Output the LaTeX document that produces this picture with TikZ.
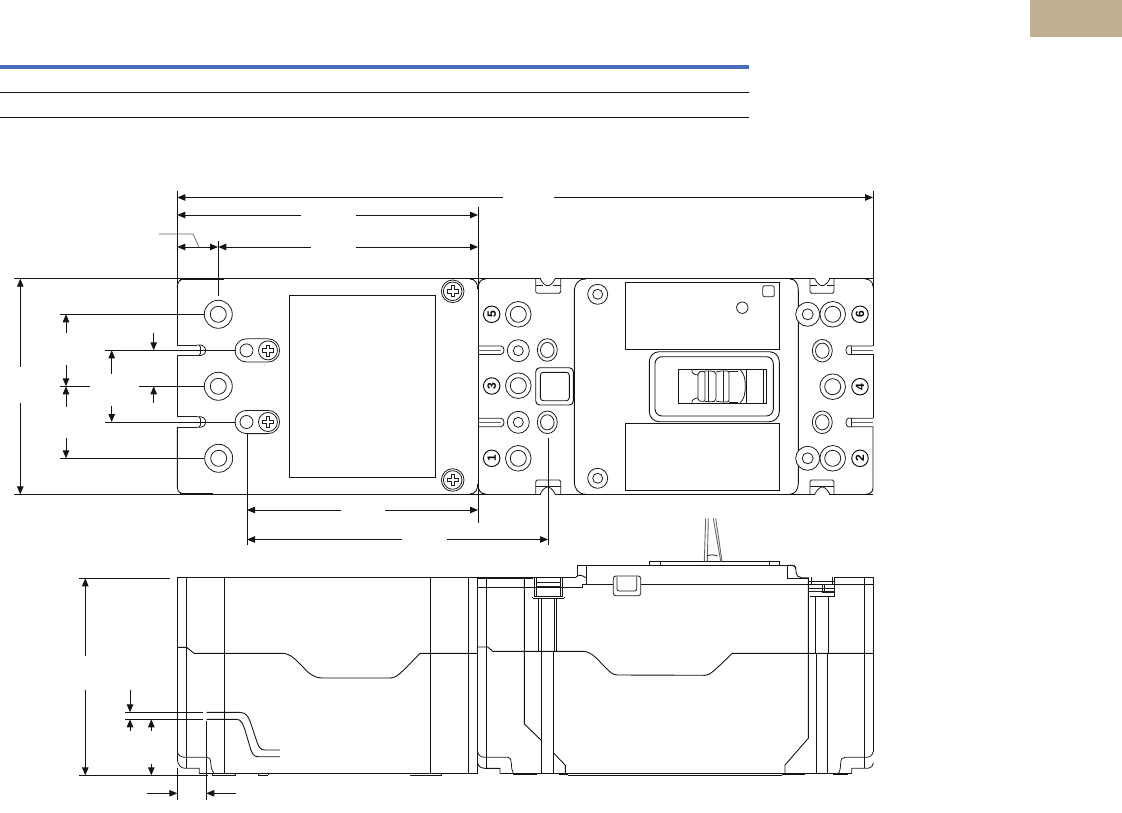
\documentclass[tikz,border=0pt]{standalone}
\usepackage{fontspec}
\setmainfont{Liberation Sans}
\usetikzlibrary{arrows.meta}
\definecolor{hdrblue}{HTML}{4A6CBF}
\definecolor{tabtan}{HTML}{C0B08F}
\tikzset{
  ln/.style={line width=0.9pt,black!92},
  fn/.style={line width=0.8pt,black!88},
  heavy/.style={line width=1.7pt,black!92},
  gr/.style={line width=0.7pt,black!60},
  dm/.style={line width=0.9pt,black!92,-{Triangle[length=8pt,width=6.5pt]}},
  dd/.style={line width=0.9pt,black!92,{Triangle[length=8pt,width=6.5pt]}-{Triangle[length=8pt,width=6.5pt]}},
}
\newcommand{\ring}[4]{\draw[fn,fill=white] (#1,#2) circle (#3); \draw[fn] (#1,#2) circle (#4);}
\newcommand{\ovl}[2]{\draw[fn,fill=white] (#1,#2) ellipse (10 and 11.3); \draw[fn] (#1,#2) ellipse (6.8 and 7.6);}
\newcommand{\crosshead}[2]{%
  \draw[fn,fill=white] (#1,#2) circle (11.3); \draw[fn] (#1,#2) circle (9.3);
  \draw[fn] (#1,#2) ++(-1.8,-5.5) -- ++(3.6,0) -- ++(0,3.7) -- ++(3.7,0) -- ++(0,3.6) -- ++(-3.7,0) -- ++(0,3.7) -- ++(-3.6,0) -- ++(0,-3.7) -- ++(-3.7,0) -- ++(0,-3.6) -- ++(3.7,0) -- cycle;}
\newcommand{\pill}[1]{%
  \draw[fn,fill=white,rounded corners=11.5pt] (235,#1-11.6) rectangle (279.6,#1+11.6);
  \draw[fn] (246.5,#1) circle (6.5);
  \draw[fn] (268,#1) circle (9.5);
  \draw[fn] (268,#1) ++(-1.8,-5.5) -- ++(3.6,0) -- ++(0,3.7) -- ++(3.7,0) -- ++(0,3.6) -- ++(-3.7,0) -- ++(0,3.7) -- ++(-3.6,0) -- ++(0,-3.7) -- ++(-3.7,0) -- ++(0,-3.6) -- ++(3.7,0) -- cycle;}
\newcommand{\numeral}[3]{\node[circle,draw,line width=0.9pt,minimum size=16.5pt,inner sep=0pt,font=\fontsize{12}{12}\selectfont\bfseries,rotate=90] (n#3) at (#1,#2) {#3};}
\begin{document}
\begin{tikzpicture}[x=1pt,y=-1pt]
\useasboundingbox (0,0) rectangle (1122,813);
% header
\fill[tabtan] (1030,0) rectangle (1122,37);
\fill[hdrblue] (0,65) rectangle (749,69);
\draw[ln] (0,92.5) -- (749,92.5);
\draw[ln] (0,117.5) -- (749,117.5);

% ============ TOP VIEW outline
\draw[ln] (14,278.7) -- (873,278.7);
\draw[ln] (14,494.3) -- (873,494.3);
\draw[ln] (177.3,191) -- (177.3,345);
\draw[ln] (177.3,355.7) -- (177.3,417);
\draw[ln] (177.3,427) -- (177.3,486) .. controls (177.3,492) and (180,494) .. (186,494.3);
\draw[ln] (177.3,288) .. controls (177.3,281) and (180,279) .. (186,278.7);
\draw[ln] (478,207) -- (478,523);
\draw[heavy] (180,279) -- (224,279);
\draw[heavy] (180,494) -- (213,494);
% right of the left box
\draw[ln] (470,279) .. controls (475,279) and (477.7,283) .. (477.7,289);
\draw[ln] (485.5,279) .. controls (480.5,279) and (478,283) .. (478,289);
\draw[ln] (470,494) .. controls (475,494) and (477.7,490) .. (477.7,484);
\draw[ln] (485.5,494) .. controls (480.5,494) and (478,490) .. (478,484);
\draw[ln] (873,191) -- (873,346);
\draw[ln] (873,354.3) -- (873,418.3);
\draw[ln] (873,426.7) -- (873,488) .. controls (873,492) and (870,494) .. (866,494.3);
% left notches
\foreach \y in {350.3,422} {
  \draw[fn] (177.3,\y-5.3) -- (197,\y-5.3);
  \draw[fn] (177.3,\y+5.3) -- (197,\y+5.3);
  \draw[fn] (197,\y-5.3) .. controls (203,\y-6) and (206,\y-3) .. (205.5,\y) .. controls (206,\y+3) and (203,\y+6) .. (197,\y+5.3);
  \draw[fn] (199,\y-5.3) -- (200.5,\y-3) -- (200.5,\y+3) -- (199,\y+5.3);
}
% large holes, left
\ring{218.3}{314.3}{14}{8}
\ring{218.3}{386.3}{14}{8}
\ring{218.7}{458.3}{14}{8}
\pill{350.4}
\pill{422}
% label window
\draw[ln] (289.3,295.2) rectangle (435.7,477.2);
\crosshead{452.7}{291.3}
\crosshead{452.7}{480}

% Section 2
\ring{518.3}{314.3}{12.8}{8}
\ring{518.3}{385.7}{12.8}{8}
\ring{518.3}{458.3}{12.8}{8}
\ring{518.3}{350.7}{11}{5}
\ring{518.3}{422.3}{11}{5}
\ovl{547.3}{350}
\ovl{547.3}{422.3}
\numeral{491.7}{314.3}{5}
\numeral{491.7}{386}{3}
\numeral{491.7}{458.3}{1}
\foreach \y/\h in {350.2/4.2,422.5/4.2} {
  \draw[fn] (478,\y-\h) -- (501,\y-\h) .. controls (505,\y-\h) and (505,\y+\h) .. (501,\y+\h) -- (478,\y+\h);
  \draw[gr] (478,\y) -- (501,\y);
}
\draw[ln,rounded corners=4pt] (535.7,367.7) rectangle (573.3,405);
\draw[ln,rounded corners=3pt] (540.3,372.3) rectangle (569.3,400.7);
% mounting-slot recesses top/bottom
\foreach \c/\l/\r in {547.7/535.7/560.7,822.3/810/834} {
  \draw[fn,rounded corners=1.5pt] (\l,279) -- (\l,293.3) -- (\r,293.3) -- (\r,279);
  \fill[white] (\c-7,277.5) rectangle (\c+7,284.8);
  \draw[fn] (\l,285.5) -- (\c-5,285.5);
  \draw[fn] (\c+5,285.5) -- (\r,285.5);
  \draw[fn] (\c-7.5,278.7) .. controls (\c-5,284) and (\c-2,285.7) .. (\c,285.7) .. controls (\c+2,285.7) and (\c+5,284) .. (\c+7.5,278.7);
  \draw[fn,rounded corners=1.5pt] (\l,494) -- (\l,480) -- (\r,480) -- (\r,494);
  \draw[fn] (\l,486.4) -- (\r,486.4);
  \fill[white] (\c-7,487.2) rectangle (\c+7,495.5);
  \draw[fn] (\c-7.5,494.3) .. controls (\c-5,489) and (\c-2,487) .. (\c,487) .. controls (\c+2,487) and (\c+5,489) .. (\c+7.5,494.3);
}
% Centre panel
\draw[ln] (586,279) .. controls (578,279) and (574.3,284) .. (574.3,292) -- (574.3,481) .. controls (574.3,489) and (578,494) .. (586,494.3);
\draw[ln] (790,279) .. controls (795,279) and (798.3,283) .. (798.3,290) -- (798.3,483) .. controls (798.3,490) and (795,494) .. (790,494.3);
\ring{597.7}{294.3}{10}{5}
\ring{597.7}{478.3}{10}{5}
\draw[ln] (625.3,282.3) rectangle (779.3,349);
\draw[ln] (625.3,423.3) rectangle (779.3,490.7);
\draw[fn,rounded corners=2pt] (762.7,285.7) rectangle (774.3,296.7);
\draw[fn] (742.3,307.7) circle (5.7);
\draw[ln,rounded corners=10pt] (649.3,351.7) rectangle (779.3,421.7);
\draw[ln,rounded corners=7pt] (655,356.7) rectangle (773.3,416);
% Handle
\draw[heavy,line width=1.3pt] (678.3,369.3) rectangle (766.7,403.3);
\draw[ln] (763.3,369.3) -- (763.3,403.3);
\draw[ln] (746.7,369.3) -- (746.7,403.3);
\draw[fn] (692,369.5) .. controls (691,373) and (695,375) .. (698,375) -- (698,398) .. controls (695,398) and (691,400) .. (692,403.3);
\draw[fn,rounded corners=2pt] (698,375) -- (698,372) -- (705,371) -- (705,401.5) -- (698,401) -- (698,398);
\draw[fn,rounded corners=2pt] (705,371) -- (712,371) -- (716,372) -- (716,401) -- (712,402) -- (705,401.5);
\draw[fn,rounded corners=2pt] (716,372) -- (720,371) -- (729,371) -- (729,402) -- (720,402) -- (716,401);
\draw[fn] (708,371) -- (708,402);
\draw[fn] (723,371) -- (723,402);
\draw[fn] (729,371) -- (738,371);
\draw[fn] (729,402) -- (738,402);
\draw[fn] (740,369.5) .. controls (744,374) and (745.3,378) .. (745.3,386) .. controls (745.3,394) and (744,399) .. (740,403.3);

% Section right
\ring{807.7}{314.3}{12}{5.5}
\ring{832.7}{314.3}{12.8}{8}
\ring{807.7}{458.3}{12}{5.5}
\ring{832.7}{458.3}{12.8}{8}
\ring{832.7}{386.7}{12.8}{8}
\ovl{822.3}{350.7}
\ovl{822.3}{422.3}
\numeral{860}{314.3}{6}
\numeral{860}{386.7}{4}
\numeral{860}{458.3}{2}
\foreach \y in {350.2,422.5} {
  \draw[fn] (873,\y-4.2) -- (851.5,\y-4.2) .. controls (848,\y-5.5) and (846,\y-3) .. (846,\y) .. controls (846,\y+3) and (848,\y+5.5) .. (851.5,\y+4.2) -- (873,\y+4.2);
  \draw[fn] (851.5,\y-4.2) -- (851.5,\y+4.2);
  \draw[gr] (852,\y) -- (873,\y);
}
\draw[fn] (865,279) .. controls (870,279) and (873,282) .. (873,287);

% ============ top-view dimensions
\draw[dm] (503,197.5) -- (177.3,197.5);
\draw[dm] (554,197.5) -- (873,197.5);
\draw[dm] (301,215) -- (177.3,215);
\draw[dm] (356,215) -- (478,215);
\draw[dd] (177.3,247) -- (218,247);
\draw[dm] (311,247) -- (218.3,247);
\draw[dm] (356,247) -- (478,247);
\draw[ln] (218.3,241) -- (218.3,296);
\draw[gr] (159,234) -- (193,234) -- (199,247);
\draw[ln] (60,314.3) -- (204,314.3);
\draw[dm] (66,332.7) -- (66,314.3);
\draw[ln] (60,386.3) -- (90,386.3);
\draw[ln] (139,386.3) -- (204,386.3);
\draw[dm] (66,365) -- (66,386.3);
\draw[dm] (66,406.7) -- (66,386.3);
\draw[dm] (153.7,402.7) -- (153.7,386.3);
\draw[ln] (105,350.3) -- (236,350.3);
\draw[dm] (153.7,332.7) -- (153.7,350.3);
\draw[dm] (111.7,373.7) -- (111.7,350.3);
\draw[ln] (105,422) -- (236,422);
\draw[dm] (111.7,406) -- (111.7,422);
\draw[ln] (60,458.3) -- (204,458.3);
\draw[dm] (66,437.7) -- (66,458.3);
\draw[dm] (20.3,366.7) -- (20.3,278.7);
\draw[dm] (20.3,402.7) -- (20.3,494.3);
\draw[ln] (247,433) -- (247,545);
\draw[dm] (341,510) -- (247,510);
\draw[dm] (385,510) -- (478,510);
\draw[dm] (402,539.5) -- (247,539.5);
\draw[dm] (447,539.5) -- (548,539.5);
\draw[ln] (548,438) -- (548,545);

% ============ SIDE VIEW
\draw[ln] (79.3,578.3) -- (170,578.3);
\draw[ln] (79.3,775.3) -- (208,775.3);
\draw[ln] (212,775.3) -- (235.7,775.3);
\draw[ln] (258,775.3) -- (268,775.3);
\draw[ln] (410,775.3) -- (441.7,775.3);
\draw[ln] (177.3,577.3) -- (576,577.3);
\draw[ln] (177.3,577.3) -- (177.3,760);
\draw[ln] (177.3,768) -- (177.3,800);
\draw[ln] (186.3,577.3) -- (186.3,768.3);
\draw[ln] (224.3,577.3) -- (224.3,773.3);
\draw[ln] (430.3,577.3) -- (430.3,773.3);
\draw[ln] (468.3,577.3) -- (468.3,773.3);
\draw[ln] (477.7,577.3) -- (477.7,773.3);
\draw[ln] (206.3,720.7) -- (206.3,800);
% left corner feet
\draw[fn] (177.3,751.7) .. controls (178,755.5) and (181,757.3) .. (185,757.3) -- (207,757.3) .. controls (210,757.3) and (210.5,759) .. (210.7,762) .. controls (211,768) and (212,771) .. (214,773.3);
\draw[fn] (177.3,760) .. controls (178,765) and (181,768.3) .. (185,768.3) -- (199.3,768.3) -- (199.3,773.3);
\draw[ln] (199.3,773.3) -- (214,773.3);
\draw[ln] (214,773.3) -- (477.7,773.3);
\draw[ln] (212,773.3) -- (212,775.3);
\draw[ln] (235.7,773.3) -- (235.7,775.3);
\draw[ln] (258,773.3) -- (258,775.3);
\draw[ln] (268,773.3) -- (268,775.3);
\draw[ln] (441.7,773.3) -- (441.7,775.3);
% mid contour left part
\draw[ln] (177.3,647.3) -- (186.7,647.3) -- (194,653.3) -- (283,653.3) .. controls (291,654) and (296,660) .. (303,667) .. controls (309,674) and (315,678) .. (322,678) -- (390,678) .. controls (397,678) and (402,672) .. (420,653.3) -- (477.7,653.3);
% lead lines
\draw[ln] (125,712.3) -- (203.3,712.3);
\draw[ln] (125,719.3) -- (203.3,719.3);
\draw[ln] (206.7,712.3) -- (240,712.3) .. controls (247,712.3) and (249,718) .. (252,727) -- (257,742) .. controls (259,748) and (261,750) .. (265,750) -- (280,750);
\draw[ln] (206.7,719.3) -- (236.7,719.3) .. controls (241,719.3) and (243,724) .. (245,730) -- (250,747) .. controls (252,754) and (254,756.7) .. (258,756.7) -- (280,756.7);
% side-view dimensions
\draw[dm] (85.3,655.7) -- (85.3,578.3);
\draw[dm] (85.3,690) -- (85.3,775.3);
\draw[dm] (130,690) -- (130,712.3);
\draw[dm] (130,730.7) -- (130,719.3);
\draw[dm] (151.3,730.7) -- (151.3,719.3);
\draw[dm] (151.3,764) -- (151.3,775.3);
\draw[dm] (147.3,793.3) -- (177.3,793.3);
\draw[dm] (235.7,793.3) -- (206.3,793.3);

% ---- right half of side view
\draw[ln] (477.7,587.3) -- (582.3,587.3) -- (582.3,584.7) -- (613.3,584.7);
\draw[ln] (640.7,584.5) -- (873,584.5);
\draw[ln] (486.3,577.3) -- (486.3,768.3);
\draw[heavy] (478,578) -- (533,578);
\draw[ln] (524.3,577.3) -- (524.3,724) -- (541.7,740.7);
\draw[ln] (534,577.7) rectangle (562.7,596.7);
\draw[ln] (532.7,598.3) -- (564,598.3);
\draw[ln] (532.7,596.7) -- (532.7,598.3);
\draw[ln] (564,596.7) -- (564,598.3);
\draw[ln] (536,577.7) -- (536,596.7);
\draw[ln] (560.7,577.7) -- (560.7,596.7);
\draw[fn] (536,582.5) -- (560.7,582.5);
\draw[fn] (536,586.5) -- (560.7,586.5);
\draw[ln] (538.3,598.3) -- (538.3,651.3);
\draw[ln] (541,598.3) -- (541,773.3);
\draw[ln] (554.3,598.3) -- (554.3,651.3);
\draw[ln] (556.7,598.3) -- (556.7,651.3);
\draw[ln] (553.3,651.3) -- (553.3,773.3);
\draw[ln] (553.3,752.7) -- (565.3,765.3) -- (565.3,773.3);
% raised cover
\draw[ln] (576,577.3) .. controls (578,574) and (582,575) .. (586.3,578);
\draw[ln] (577.3,575.5) -- (577.3,565.3) -- (787.3,565.3) -- (787.3,578.3) -- (808.3,578.3);
\draw[ln] (586.3,565.3) -- (586.3,584.7);
\draw[ln] (649.3,565.3) -- (649.3,561.3) -- (779.3,561.3) -- (779.3,565.3);
\draw[fn] (660,561.3) -- (660,565.3);
\draw[fn] (769.3,561.3) -- (769.3,565.3);
\draw[ln,rounded corners=2pt] (787.3,565.3) -- (794,565.3) -- (796,568) -- (796,574) -- (799,577.7) -- (808.3,577.7);
\draw[fn,rounded corners=2.5pt] (613.3,576) rectangle (640.7,595.7);
\draw[fn,rounded corners=2pt] (617,576.5) -- (617,591) -- (636.7,591) -- (636.7,576.5);
% lever
\draw[gr,line width=0.9pt] (705.7,518.3) -- (704.3,561.3);
\draw[gr,line width=0.9pt] (708.3,518.3) -- (707.3,561.3);
\draw[gr,line width=0.9pt] (713.3,518.3) -- (720.7,561.3);
\draw[gr,line width=0.9pt] (715.7,518.3) -- (722,561.3);
\draw[fn] (707,556) .. controls (710,554.5) and (714,554.5) .. (717.5,556);
% mid contour right part
\draw[ln] (477.7,647) -- (487.7,647) -- (492.7,651.3) -- (583.3,651.3) .. controls (592,652) and (597,659) .. (603,665) .. controls (610,672) and (612,675) .. (618,675) -- (705,675.3) .. controls (710,675) and (713,672) .. (732.3,653.3) -- (873,653.3);
% right terminal
\draw[ln] (808.3,577.3) -- (808.3,738.3) -- (785,765) -- (785,773.3);
\draw[ln] (834.3,577.3) -- (834.3,596.7) -- (810,596.7);
\draw[ln] (811,577.3) -- (811,584.5);
\draw[ln] (832,577.3) -- (832,584);
\draw[fn] (808.3,581.7) -- (834.3,581.7);
\draw[fn] (808.3,591.7) -- (834.3,591.7);
\draw[fn] (808.3,588) -- (834.3,588);
\draw[fn] (822.3,584.5) rectangle (834.3,592.7);
\draw[fn] (824.7,584.5) -- (824.7,592.7);
\draw[ln] (815.3,596.7) -- (815.3,653.3);
\draw[ln] (828.3,596.7) -- (828.3,653.3);
\draw[ln] (816.3,653.3) -- (816.3,773.3);
\draw[ln] (827.3,653.3) -- (827.3,773.3);
\draw[ln] (834.3,577.3) -- (873,577.3);
\draw[ln] (864.3,577.3) -- (864.3,768.3);
\draw[ln] (873,577.3) -- (873,751.7);
\draw[fn] (873,751.7) .. controls (872.5,755.5) and (870,757.3) .. (866,757.3) -- (845,757.3) .. controls (842,757.3) and (841,759) .. (840.7,763) .. controls (840.5,769) and (839.5,772) .. (838.3,773.3);
\draw[fn] (873.5,763) .. controls (873,766) and (871,768.3) .. (868,768.3) -- (851.7,768.3) -- (851.7,773.3);
% base right
\draw[ln] (477.7,763) .. controls (478,766) and (481,768.3) .. (485,768.3) -- (500,768.3) -- (500,773.3);
\draw[fn] (477.7,751.7) .. controls (478.3,755.5) and (481,757.3) .. (485,757.3) -- (508.3,757.3) .. controls (510.5,757.3) and (511,760) .. (511.3,763) .. controls (511.5,768) and (512,771) .. (513.3,773.3);
\draw[ln] (500,773.3) -- (851.7,773.3);
\draw[ln] (568,775.2) -- (781.7,775.2);
\draw[heavy] (513,774.5) -- (537,774.5);
\draw[heavy] (559,774.5) -- (568,774.5);
\draw[heavy] (781.7,774.5) -- (805,774.5);
\draw[heavy] (833,774.5) -- (848,774.5);
\end{tikzpicture}
\end{document}
